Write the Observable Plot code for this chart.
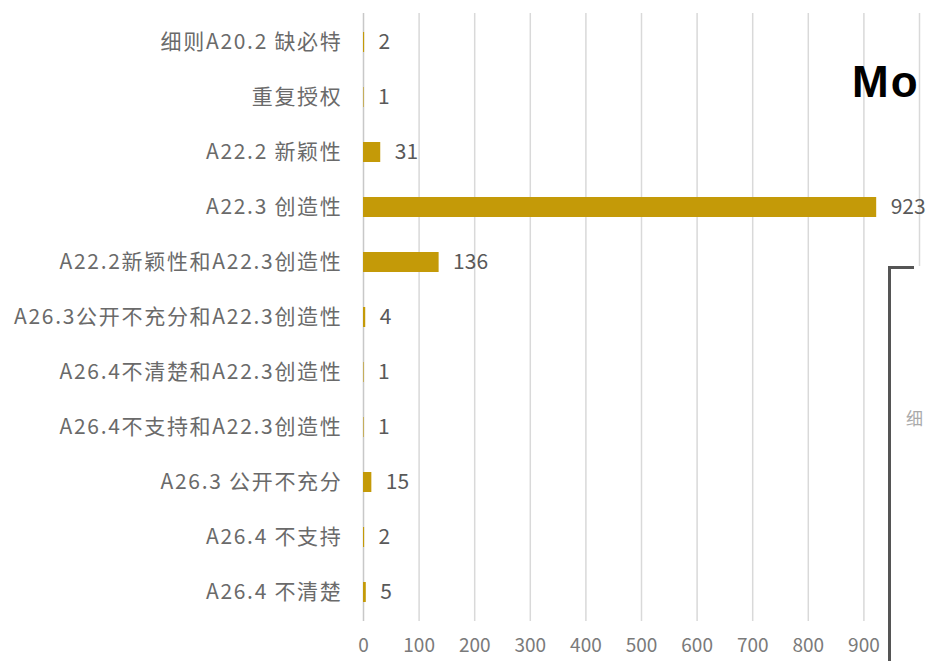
<!DOCTYPE html>
<html>
<head>
<meta charset="utf-8">
<script src="https://cdn.jsdelivr.net/npm/d3@7"></script>
<script src="https://cdn.jsdelivr.net/npm/@observablehq/plot@0.6"></script>
<style>
  html, body { margin: 0; padding: 0; background: #fff; }
  #wrap { position: relative; width: 929px; height: 661px; overflow: hidden; background: #fff; }
  #chart svg { display: block; }
  #chart svg g[aria-label="y-axis tick label"] text { letter-spacing: 1.7px; }
  .ov { position: absolute; }
</style>
</head>
<body>
<div id="wrap">
  <div id="chart"></div>
  <div class="ov" id="mo" style="left:852px;top:56px;font:bold 44px 'Liberation Sans',Arial,sans-serif;color:#000;line-height:52px;letter-spacing:2px;white-space:nowrap;">Mo</div>
  <div class="ov" id="box" style="left:888px;top:266px;width:60px;height:400px;background:#fff;border-left:3px solid #555;"></div>
  <div class="ov" style="left:888px;top:266px;width:26px;height:3px;background:#555;"></div>
  <div class="ov" style="left:906px;top:405px;font:17px 'Noto Sans CJK SC',sans-serif;color:#aaa;white-space:nowrap;">细</div>
</div>
<script>
const categories = [
  "细则A20.2 缺必特",
  "重复授权",
  "A22.2 新颖性",
  "A22.3 创造性",
  "A22.2新颖性和A22.3创造性",
  "A26.3公开不充分和A22.3创造性",
  "A26.4不清楚和A22.3创造性",
  "A26.4不支持和A22.3创造性",
  "A26.3 公开不充分",
  "A26.4 不支持",
  "A26.4 不清楚"
];
const values = [2, 1, 31, 923, 136, 4, 1, 1, 15, 2, 5];
const xTicks = [0, 100, 200, 300, 400, 500, 600, 700, 800, 900];
const gridValues = [100, 200, 300, 400, 500, 600, 700, 800, 900, 1000];

const data = categories.map((c, i) => ({category: c, value: values[i]}));

const chart = Plot.plot({
  width: 929,
  height: 661,
  marginLeft: 363,
  marginRight: 10,
  marginTop: 13,
  marginBottom: 40,
  style: {fontFamily: "'Noto Sans CJK SC', sans-serif", fontSize: "21px", color: "#666", background: "#fff"},
  x: {domain: [0, 1000], axis: null},
  y: {domain: categories, paddingInner: 0.64, paddingOuter: 0.32, axis: null},
  marks: [
    Plot.ruleX(gridValues, {stroke: "#d9d9d9", strokeWidth: 1.5}),
    Plot.ruleX([0], {stroke: "#c8c8c8", strokeWidth: 1.5}),
    Plot.barX(data, {x: "value", y: "category", fill: "#C49A08"}),
    Plot.text(data, {x: "value", y: "category", text: d => String(d.value), textAnchor: "start", dx: 14, fill: "#595959", fontSize: 21}),
    Plot.axisY({tickSize: 0, tickPadding: 21, label: null, fill: "#6a6a6a", fontSize: 21}),
    Plot.axisX(xTicks, {tickSize: 0, tickPadding: 17, label: null, fill: "#7a7a7a", fontSize: 19})
  ]
});
document.getElementById("chart").appendChild(chart);
</script>
</body>
</html>
